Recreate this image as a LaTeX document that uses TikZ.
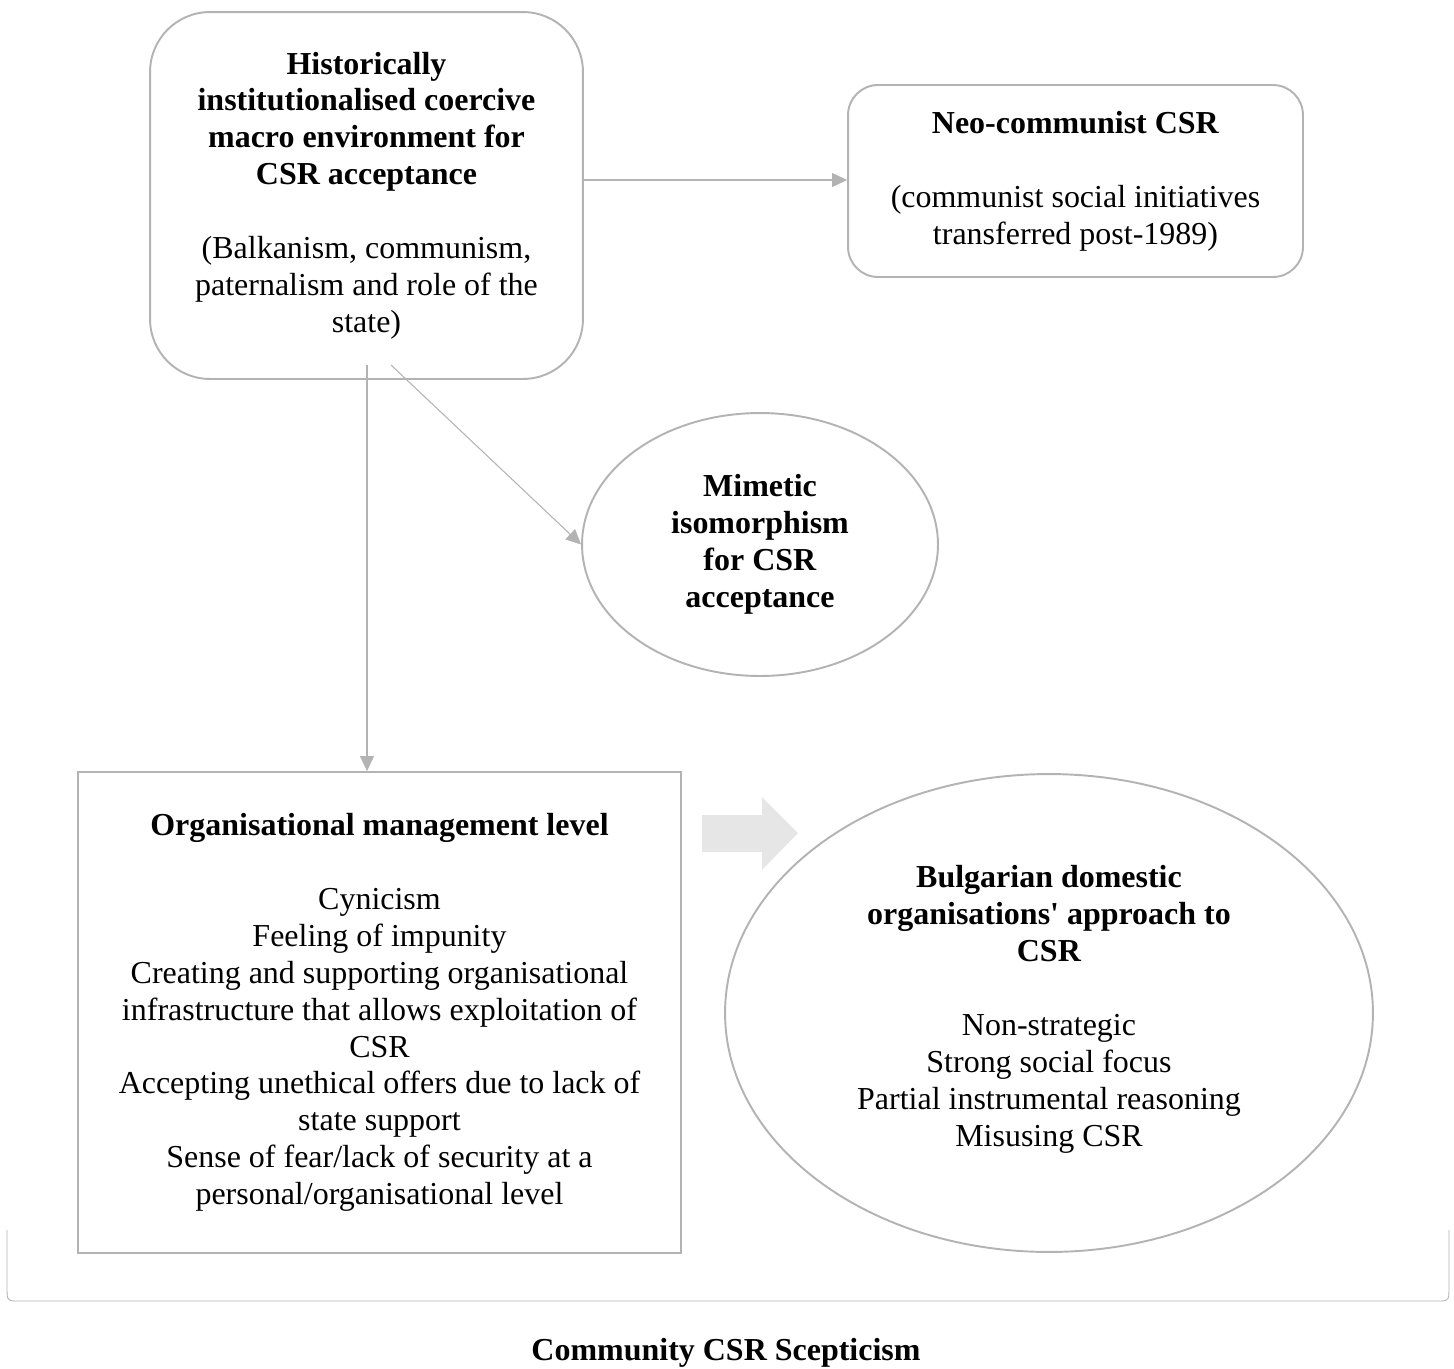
\documentclass[tikz,border=0pt]{standalone}
\usepackage{fontspec}
\setmainfont{Liberation Serif}
\usetikzlibrary{shapes.geometric,arrows.meta,positioning,calc}
\definecolor{edgegray}{HTML}{B3B3B3}
\definecolor{blockgray}{HTML}{E6E6E6}
\tikzset{
  txt/.style={align=center,font=\fontsize{18.2}{21}\selectfont,inner sep=0pt},
  rbox/.style={txt,draw=edgegray,line width=1.1pt},
  conn/.style={draw=edgegray,line width=0.6pt,-{Triangle[length=0.3cm,width=0.28cm]}}
}
\newcommand{\gapline}{\\[21pt]}

\begin{document}
\begin{tikzpicture}[x=0.02cm,y=-0.02cm]
      \useasboundingbox (0,0) rectangle (1454,1369);
      % boxes
      \node[rbox,rounded corners=1.2cm,minimum width=8.66cm,minimum height=7.34cm] (hist) at (366.5,195.5)
        {\textbf{Historically}\\\textbf{institutionalised coercive}\\\textbf{macro environment for}\\\textbf{CSR acceptance}\gapline
         (Balkanism, communism,\\paternalism and role of the\\state)};
      \node[rbox,rounded corners=0.6cm,minimum width=9.1cm,minimum height=3.84cm] (neo) at (1075.5,181)
        {\textbf{Neo-communist CSR}\gapline(communist social initiatives\\transferred post-1989)};
      \node[rbox,ellipse,minimum width=7.12cm,minimum height=5.26cm] (mim) at (760,544.5)
        {\textbf{Mimetic}\\\textbf{isomorphism}\\\textbf{for CSR}\\\textbf{acceptance}};
      \node[rbox,minimum width=12.06cm,minimum height=9.62cm] (org) at (379.5,1012.5)
        {\textbf{Organisational management level}\gapline
         Cynicism\\Feeling of impunity\\Creating and supporting organisational\\infrastructure that allows exploitation of\\CSR\\
         Accepting unethical offers due to lack of\\state support\\Sense of fear/lack of security at a\\personal/organisational level};
      \node[rbox,ellipse,minimum width=12.96cm,minimum height=9.56cm] (bulg) at (1049,1013)
        {\textbf{Bulgarian domestic}\\\textbf{organisations\textquotesingle{} approach to}\\\textbf{CSR}\gapline
         Non-strategic\\Strong social focus\\Partial instrumental reasoning\\Misusing CSR\\[-13pt]};
      \node[txt] (scep) at (726,1353) {\textbf{Community CSR Scepticism}};
      % connectors
      \coordinate (hright) at (583,180);
      \coordinate (hdiag) at (391,365);
      \coordinate (hdown) at (367,365);
      \draw[conn] (hright) -- (hright -| neo.west);
      \draw[conn] (hdiag) -- (mim.west);
      \draw[conn] (hdown) -- (hdown |- org.north);
      % block arrow
      \fill[blockgray] (702,815) -- (762,815) -- (762,797) -- (798,833) -- (762,870) -- (762,852) -- (702,852) -- cycle;
      % bracket
      \draw[edgegray,line width=0.5pt] (7,1230) -- (7,1285) .. controls (7,1300) .. (14,1301) -- (1442,1301)
        .. controls (1449,1300) .. (1449,1285) -- (1449,1230);
    \end{tikzpicture}
\end{document}
